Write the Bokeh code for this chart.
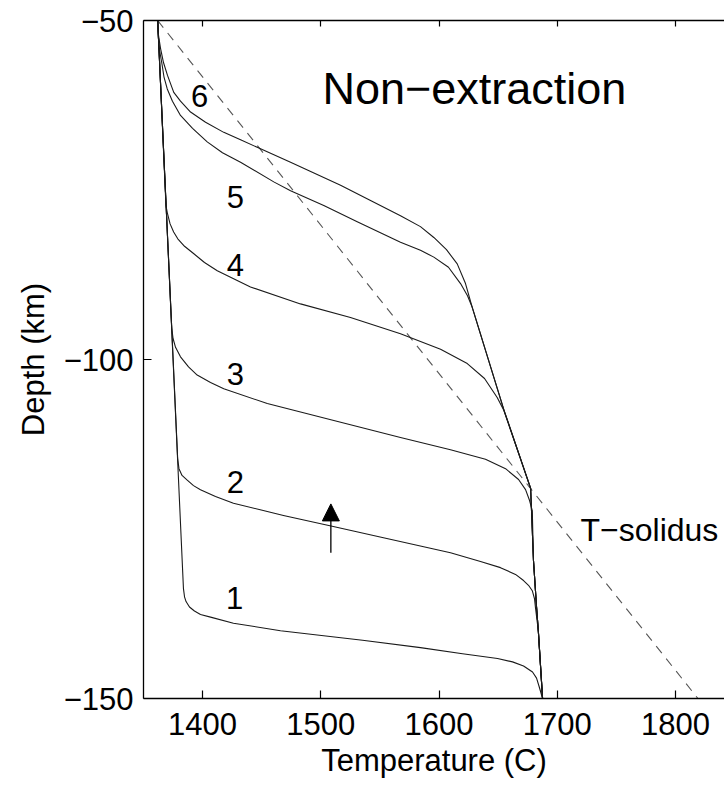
import numpy as np
from bokeh.plotting import figure
from bokeh.models import (Range1d, LinearAxis, FixedTicker, Arrow, NormalHead,
                          Label, ColumnDataSource)
from bokeh.embed import file_html
from bokeh.resources import INLINE
from bokeh.core.properties import value

# ---------------- data (temperature in C, depth in km, negative downwards) -----
curve1_T = [1362, 1383.8, 1384.7, 1386.0, 1388.9, 1393.1, 1398.2, 1406.7, 1426.1,
            1465.9, 1535.3, 1584.3, 1619.9, 1649.5, 1662.2, 1671.5, 1679.1,
            1682.5, 1684.8, 1687.6]
curve1_z = [-50, -133.8, -135.0, -135.7, -136.5, -137.1, -137.6, -138.0, -138.9,
            -140.0, -141.4, -142.5, -143.4, -144.1, -144.6, -145.2, -146.1,
            -147.0, -148.3, -150.0]

curve2_T = [1362, 1378.9, 1380.0, 1382.6, 1387.0, 1392.3, 1398.2, 1410.9, 1426.1,
            1468.4, 1509.6, 1553.0, 1609.7, 1635.1, 1652.0, 1664.7, 1671.5,
            1675.7, 1678.9, 1680.8, 1681.6]
curve2_z = [-50, -114.6, -116.1, -117.1, -117.8, -118.6, -119.2, -120.2, -121.2,
            -123.0, -124.6, -126.3, -128.5, -129.8, -130.7, -131.7, -132.6,
            -133.3, -134.1, -135.3, -136.6]

curve3_T = [1362, 1373.9, 1375.0, 1377.1, 1381.3, 1388.1, 1395.4, 1406.7, 1417.9,
            1454.7, 1511.0, 1567.4, 1609.7, 1639.3, 1656.3, 1667.3, 1673.2,
            1676.6, 1678.9]
curve3_z = [-50, -95.4, -96.9, -98.2, -99.6, -101.1, -102.3, -103.4, -104.3,
            -106.5, -109.0, -111.5, -113.3, -114.7, -116.1, -117.7, -119.2,
            -120.8, -122.3]

curve4_T = [1362, 1369.0, 1370.3, 1372.5, 1375.5, 1379.0, 1384.7, 1392.6, 1401.6,
            1412.4, 1440.5, 1482.8, 1525.1, 1567.4, 1601.3, 1623.9, 1638.5,
            1649.2, 1654.8]
curve4_z = [-50, -77.3, -78.5, -80.0, -81.2, -82.2, -83.3, -84.4, -85.7,
            -86.9, -89.3, -91.8, -93.8, -96.2, -98.5, -100.6, -102.8,
            -105.6, -107.5]

curve5_T = [1362, 1362.9, 1364.4, 1365.8, 1367.3, 1370.1, 1374.5, 1381.3, 1391.5,
            1403.9, 1416.8, 1432.1, 1460.2, 1474.4, 1502.5, 1530.8, 1567.4,
            1584.3, 1595.6, 1608.0, 1618.2, 1624.1, 1628.1]
curve5_z = [-50, -53.7, -55.2, -56.6, -58.3, -60.1, -61.9, -64.0, -65.9,
            -67.9, -69.5, -70.9, -73.8, -75.1, -77.3, -79.7, -82.7,
            -83.9, -84.9, -86.4, -88.8, -90.6, -92.3]

curve6_T = [1362, 1362.7, 1364.4, 1366.9, 1370.3, 1375.6, 1381.3, 1389.8, 1402.5,
            1417.9, 1432.1, 1446.2, 1474.4, 1516.7, 1567.4, 1584.3, 1595.6,
            1606.3, 1615.4, 1622.4, 1628.1]
curve6_z = [-50, -52.2, -54.1, -56.2, -58.1, -60.6, -61.9, -63.5, -65.0,
            -66.5, -67.6, -68.7, -70.9, -74.3, -78.8, -80.4, -82.0,
            -83.8, -85.9, -88.8, -92.3]

# shared adiabat branch on the right that every geotherm follows below its join
adiabat_T = [1628.1, 1655.0, 1677.5, 1679.9, 1682.5, 1684.0, 1687.6]
adiabat_z = [-92.3, -107.5, -119.0, -129.6, -136.5, -140.0, -150.0]

# solidus (dashed)
solidus_T = [1362, 1819]
solidus_z = [-50, -150]

curve_labels = ["1", "2", "3", "4", "5", "6"]
label_T = [1427.0, 1427.8, 1427.8, 1427.8, 1427.8, 1397.4]
label_z = [-135.2, -118.0, -102.1, -86.0, -76.1, -61.1]

arrow_T = 1508.5
arrow_z_start = -128.5
arrow_z_end = -121.3

x_ticks = [1400, 1500, 1600, 1700, 1800]
y_ticks = [-150, -100, -50]
y_tick_labels = {-150: "\u2212150", -100: "\u2212100", -50: "\u221250"}

title_text = "Non\u2212extraction"
solidus_text = "T\u2212solidus"
x_label = "Temperature (C)"
y_label = "Depth (km)"

# ---------------- figure ----------------
FONT = "Liberation Sans"

p = figure(width=724, height=786,
           x_range=Range1d(1350, 1841.5), y_range=Range1d(-150, -50),
           output_backend="svg", toolbar_location=None,
           x_axis_location=None, y_axis_location=None,
           min_border_left=143, min_border_right=0,
           min_border_top=20, min_border_bottom=88)
p.outline_line_color = None
p.grid.grid_line_color = None
p.background_fill_color = "white"
p.border_fill_color = "white"


def style_axis(ax, tick_len=8):
    ax.axis_line_color = "black"
    ax.axis_line_width = 1.3
    ax.major_tick_in = tick_len
    ax.major_tick_out = 0
    ax.major_tick_line_color = "black"
    ax.major_tick_line_width = 1.2
    ax.minor_tick_line_color = None
    ax.major_label_text_font = FONT
    ax.major_label_text_font_size = "31px"
    ax.major_label_text_color = "black"
    ax.axis_label_text_font = FONT
    ax.axis_label_text_font_size = "31px"
    ax.axis_label_text_font_style = "normal"
    ax.axis_label_text_color = "black"


xb = LinearAxis(ticker=FixedTicker(ticks=x_ticks), axis_label=x_label)
style_axis(xb)
xb.major_label_standoff = 14
xb.axis_label_standoff = 5
p.add_layout(xb, "below")

# top frame edge with inward ticks, no labels
xt = LinearAxis(ticker=FixedTicker(ticks=x_ticks))
style_axis(xt, tick_len=6)
xt.major_label_text_font_size = "0px"
xt.major_label_text_color = None
xt.major_label_standoff = 0
p.add_layout(xt, "above")

yl = LinearAxis(ticker=FixedTicker(ticks=y_ticks), axis_label=y_label,
                major_label_overrides=y_tick_labels)
style_axis(yl)
yl.major_label_standoff = 10
yl.axis_label_standoff = 10
p.add_layout(yl, "left")

# solidus
p.line(solidus_T, solidus_z, line_color="#555555", line_width=1.1, line_dash="9 7")

# geotherms
curves = [(curve1_T, curve1_z), (curve2_T, curve2_z), (curve3_T, curve3_z),
          (curve4_T, curve4_z), (curve5_T, curve5_z), (curve6_T, curve6_z)]
for T, z in curves:
    endz = z[-1]
    tailT = [t for t, d in zip(adiabat_T, adiabat_z) if d < endz - 1e-9]
    tailz = [d for d in adiabat_z if d < endz - 1e-9]
    p.line(list(T) + tailT, list(z) + tailz, line_color="#1a1a1a", line_width=1.1,
           line_join="round")

# curve numbers
src = ColumnDataSource(dict(x=label_T, y=label_z, t=curve_labels))
p.text(x="x", y="y", text="t", source=src, text_font=value(FONT),
       text_font_size="31px", text_align="center", text_baseline="middle",
       text_color="black")

# arrow
p.add_layout(Arrow(end=NormalHead(size=17, fill_color="black", line_color="black"),
                   x_start=arrow_T, y_start=arrow_z_start,
                   x_end=arrow_T, y_end=arrow_z_end,
                   line_color="black", line_width=1.3))

# texts
p.add_layout(Label(x=1501.4, y=-60.0, text=title_text, text_font=FONT,
                   text_font_size="45px", text_align="left",
                   text_baseline="middle", text_color="black"))
p.add_layout(Label(x=1719.7, y=-125.2, text=solidus_text, text_font=FONT,
                   text_font_size="32px", text_align="left",
                   text_baseline="middle", text_color="black"))

open("out.html", "w").write(file_html(p, INLINE))
